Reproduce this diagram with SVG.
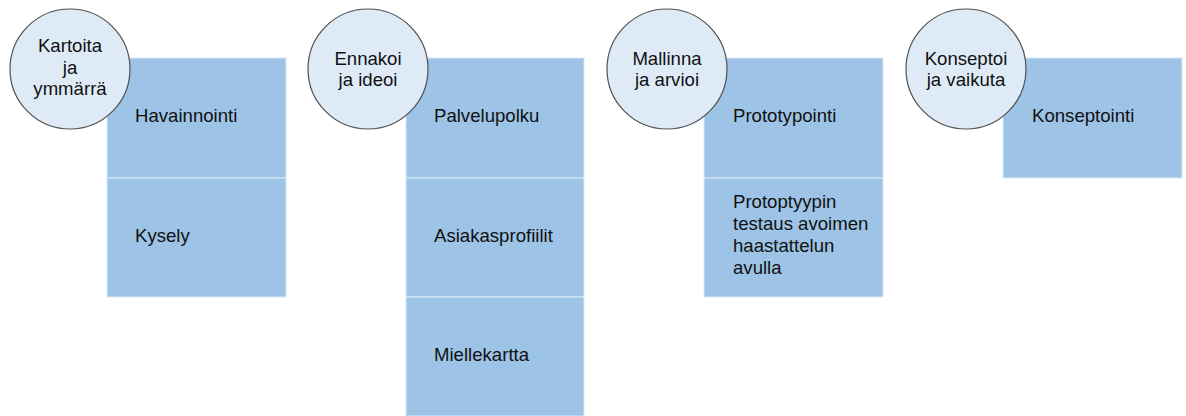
<svg xmlns="http://www.w3.org/2000/svg" width="1186" height="416" viewBox="0 0 1186 416">
<style>
.box{fill:#9DC3E6;stroke:#DCE9F6;stroke-width:1}
.circ{fill:#DEEBF7;stroke:#505050;stroke-width:1.2}
text{font-family:"Liberation Sans",Arial,sans-serif;font-size:18.6px;fill:#111}
.c{text-anchor:middle}
</style>
<rect width="1186" height="416" fill="#fff"/>
<g id="connectors"></g>
<g id="g1">
<rect class="box" x="107" y="58" width="179" height="120"/>
<rect class="box" x="107" y="178" width="179" height="119"/>
<text x="135" y="122">Havainnointi</text>
<text x="135" y="242">Kysely</text>
<circle class="circ" cx="70" cy="69" r="60"/>
<text class="c" x="70" y="52">Kartoita</text>
<text class="c" x="70" y="74">ja</text>
<text class="c" x="70" y="95">ymmärrä</text>
</g>
<g id="g2">
<rect class="box" x="406" y="58" width="178" height="120"/>
<rect class="box" x="406" y="178" width="178" height="119"/>
<rect class="box" x="406" y="297" width="178" height="119"/>
<text x="434" y="122">Palvelupolku</text>
<text x="434" y="242">Asiakasprofiilit</text>
<text x="434" y="361">Miellekartta</text>
<circle class="circ" cx="368" cy="69" r="60"/>
<text class="c" x="368" y="65">Ennakoi</text>
<text class="c" x="368" y="86">ja ideoi</text>
</g>
<g id="g3">
<rect class="box" x="704" y="58" width="179" height="120"/>
<rect class="box" x="704" y="178" width="179" height="119"/>
<text x="733" y="122">Prototypointi</text>
<text x="733" y="208">Protoptyypin</text>
<text x="733" y="230">testaus avoimen</text>
<text x="733" y="252">haastattelun</text>
<text x="733" y="274">avulla</text>
<circle class="circ" cx="667" cy="69" r="60"/>
<text class="c" x="667" y="65">Mallinna</text>
<text class="c" x="667" y="86">ja arvioi</text>
</g>
<g id="g4">
<rect class="box" x="1003" y="58" width="179" height="120"/>
<text x="1032" y="122">Konseptointi</text>
<circle class="circ" cx="966" cy="69" r="60"/>
<text class="c" x="966" y="65">Konseptoi</text>
<text class="c" x="966" y="86">ja vaikuta</text>
</g>
</svg>
